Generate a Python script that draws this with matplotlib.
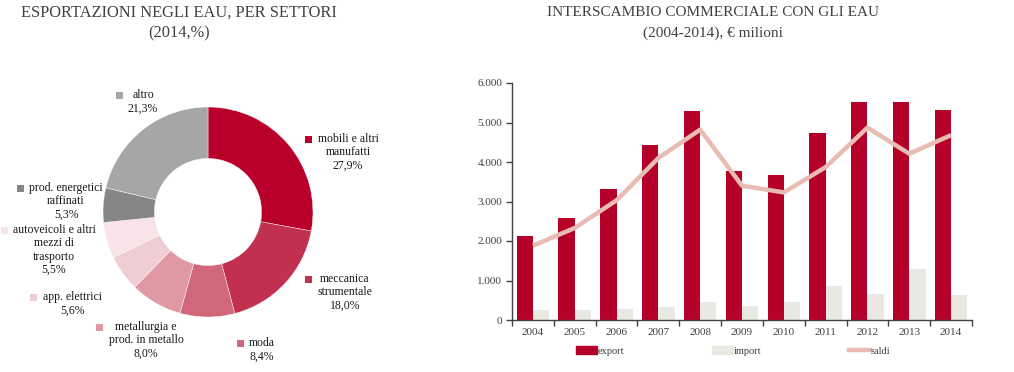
import matplotlib
matplotlib.use("Agg")
import matplotlib.pyplot as plt
from matplotlib.patches import Rectangle
from matplotlib.lines import Line2D
from matplotlib.ticker import FuncFormatter, FixedLocator

plt.rcParams['font.family'] = ['Liberation Serif', 'DejaVu Serif']

# ---- Data: donut ----
sectors = ["mobili e altri\nmanufatti", "meccanica\nstrumentale", "moda",
           "metallurgia e\nprod. in metallo", "app. elettrici",
           "autoveicoli e altri\nmezzi di\ntrasporto",
           "prod. energetici\nraffinati", "altro"]
shares = [27.9, 18.0, 8.4, 8.0, 5.6, 5.5, 5.3, 21.3]
share_labels = ["27,9%", "18,0%", "8,4%", "8,0%", "5,6%", "5,5%", "5,3%", "21,3%"]
sector_colors = ["#B9002B", "#C1314F", "#D2667B", "#E098A5", "#F0CDD3",
                 "#F8E3E8", "#868686", "#A6A6A6"]

# ---- Data: bars ----
years = ["2004", "2005", "2006", "2007", "2008", "2009", "2010", "2011",
         "2012", "2013", "2014"]
export = [2130, 2590, 3310, 4430, 5280, 3760, 3680, 4730, 5530, 5510, 5320]
imports = [250, 260, 280, 330, 460, 360, 450, 860, 660, 1300, 640]
saldi = [1880, 2330, 3030, 4100, 4820, 3400, 3230, 3870, 4870, 4210, 4680]

W, H = 1014, 372
fig = plt.figure(figsize=(W / 100, H / 100), dpi=100)
fig.patch.set_facecolor("white")

title_color = "#404040"
text_color = "#1a1a1a"

# ---- Donut panel (pixel coordinate axes) ----
ax1 = fig.add_axes([0, 0, 400 / W, 1])
cx, cy, R = 208, 212, 105
ax1.pie(shares, colors=sector_colors, startangle=-90,
        counterclock=True, center=(cx, cy), radius=R,
        wedgeprops=dict(width=R * 0.49, linewidth=0.3, edgecolor="white"),
        frame=True)
ax1.set_xlim(0, 400)
ax1.set_ylim(H, 0)
ax1.set_aspect("equal")
ax1.axis("off")

# label layout: (square x, square y, text center x)
label_pos = [(308, 139, 348), (308, 279, 345), (240, 343, 262),
             (99, 327, 146), (33, 297, 72), (4, 230, 54),
             (20, 188, 66), (119, 95, 143)]
lh = 13.3
fs = 8.5
for (sx, sy, tx), name, pct, col in zip(label_pos, sectors, share_labels,
                                        sector_colors):
    ax1.add_patch(Rectangle((sx - 3.5, sy - 3.5), 7, 7, facecolor=col,
                            edgecolor="none"))
    lines = name.split("\n") + [pct]
    for k, ln in enumerate(lines):
        ax1.text(tx, sy + k * lh, ln, ha="center", va="center",
                 fontsize=fs, color=text_color)

fig.text(179 / W, 1 - 13 / H, "ESPORTAZIONI NEGLI EAU, PER SETTORI",
         ha="center", va="center", fontsize=11.8, color=title_color)
fig.text(179 / W, 1 - 33 / H, "(2014,%)", ha="center", va="center",
         fontsize=11.8, color=title_color)

# ---- Bar chart ----
left, right, bottom, top = 512, 972, 320, 83
ax2 = fig.add_axes([left / W, 1 - bottom / H, (right - left) / W,
                    (bottom - top) / H])
x = list(range(len(years)))
bw = 0.39
ax2.bar(x, export, width=-bw, align="edge", color="#B5002A", label="export",
        zorder=2)
ax2.bar(x, imports, width=bw, align="edge", color="#EAE8E3", label="import",
        zorder=2)
ax2.plot(x, saldi, color="#E8BBB3", lw=3.2, label="saldi", zorder=3,
         solid_capstyle="butt")

ax2.set_xlim(-0.5, len(years) - 0.5)
ax2.set_ylim(0, 6000)
ax2.set_yticks(range(0, 6001, 1000))
ax2.yaxis.set_major_formatter(FuncFormatter(
    lambda v, p: f"{int(v):,}".replace(",", ".")))
ax2.set_xticks(x)
ax2.set_xticklabels(years)
ax2.xaxis.set_minor_locator(FixedLocator([i - 0.5 for i in range(len(years) + 1)]))
ax2.tick_params(axis="x", which="major", length=0, pad=6, labelsize=8,
                labelcolor="#404040")
ax2.tick_params(axis="x", which="minor", length=4, width=1, color="#404040",
                direction="out")
ax2.tick_params(axis="y", which="major", length=4, width=1, color="#404040",
                labelsize=8, labelcolor="#404040", pad=3)
for s in ["top", "right"]:
    ax2.spines[s].set_visible(False)
for s in ["left", "bottom"]:
    ax2.spines[s].set_color("#404040")
    ax2.spines[s].set_linewidth(1)

handles = [Rectangle((0, 0), 1, 1, color="#B5002A"),
           Rectangle((0, 0), 1, 1, color="#EAE8E3"),
           Line2D([0], [0], color="#E8BBB3", lw=3.2)]
leg = fig.legend(handles, ["export", "import", "saldi"], ncol=3,
                 loc="center left", bbox_to_anchor=(576 / W, 1 - 351 / H),
                 frameon=False, fontsize=7.5, handlelength=2.0,
                 handleheight=0.7, handletextpad=0.1, columnspacing=8.4,
                 borderpad=0, borderaxespad=0)
for t in leg.get_texts():
    t.set_color("#404040")

fig.text(713 / W, 1 - 13 / H, "INTERSCAMBIO COMMERCIALE CON GLI EAU",
         ha="center", va="center", fontsize=11, color=title_color)
fig.text(713 / W, 1 - 33 / H, "(2004-2014), € milioni", ha="center",
         va="center", fontsize=11, color=title_color)

fig.savefig("out.png", dpi=100, facecolor="white")
